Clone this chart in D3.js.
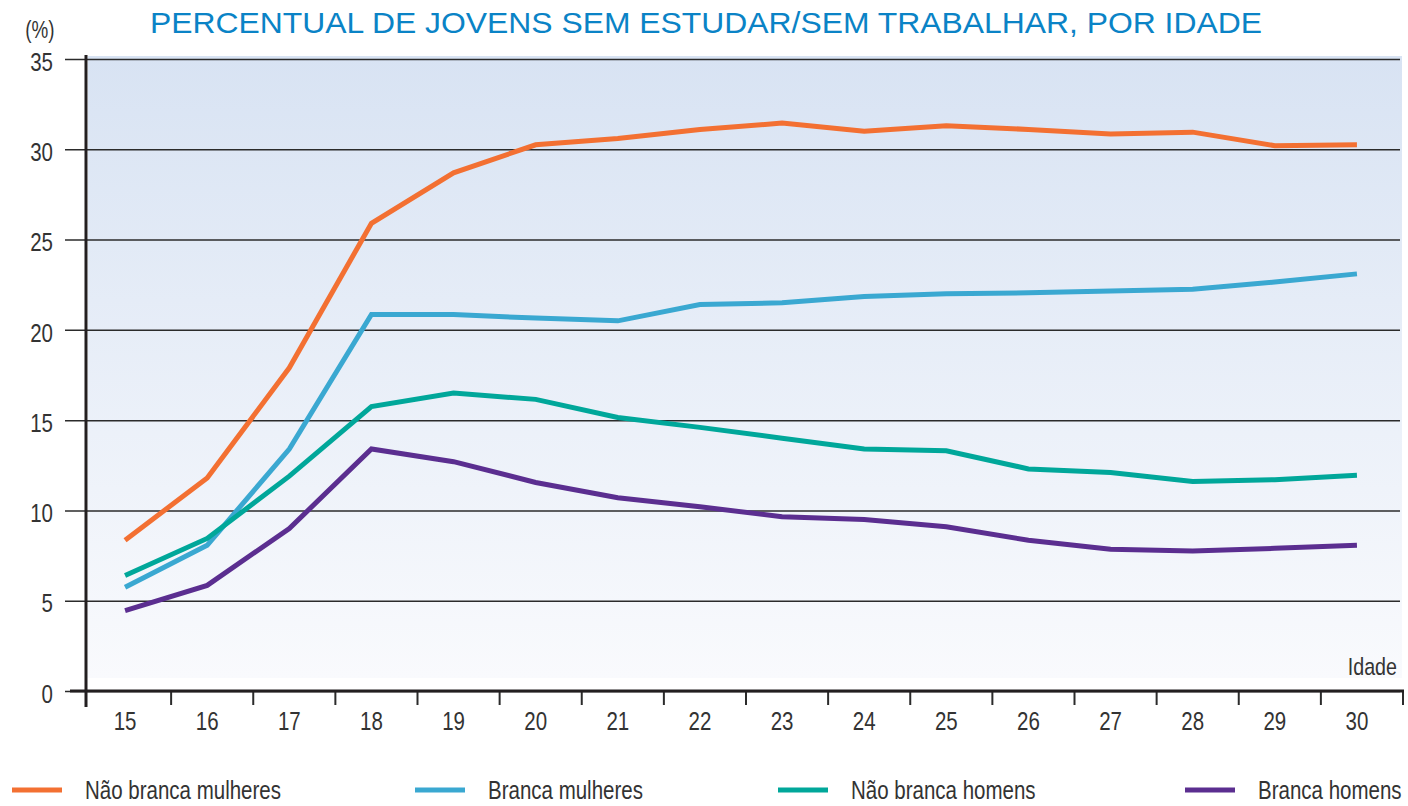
<!DOCTYPE html>
<html><head><meta charset="utf-8">
<script src="https://cdn.jsdelivr.net/npm/d3@7"></script>
<style>
html,body{margin:0;padding:0;background:#fff;}
svg{display:block;}
</style></head>
<body>
<svg id="chart" width="1408" height="806"></svg>
<script>
const ages = ["15","16","17","18","19","20","21","22","23","24","25","26","27","28","29","30"];
const naoBrancaMulheres = [8.35,11.8,17.9,25.9,28.7,30.25,30.6,31.1,31.45,31.0,31.3,31.1,30.85,30.95,30.2,30.25];
const brancaMulheres    = [5.75,8.07,13.4,20.85,20.85,20.65,20.5,21.4,21.5,21.85,22.0,22.05,22.15,22.25,22.65,23.1];
const naoBrancaHomens   = [6.4,8.45,11.9,15.75,16.5,16.15,15.15,14.6,14.0,13.4,13.3,12.3,12.1,11.6,11.7,11.95];
const brancaHomens      = [4.45,5.85,9.0,13.4,12.7,11.55,10.7,10.2,9.65,9.5,9.1,8.35,7.85,7.75,7.9,8.07];
const yTicks = [0,5,10,15,20,25,30,35];
const seriesNames = ["Não branca mulheres","Branca mulheres","Não branca homens","Branca homens"];
const seriesColors = ["#f37032","#3aa8d1","#00a79a","#5b2e90"];
const seriesValues = [naoBrancaMulheres, brancaMulheres, naoBrancaHomens, brancaHomens];
const titleText = "PERCENTUAL DE JOVENS SEM ESTUDAR/SEM TRABALHAR, POR IDADE";

const FONT = "'Liberation Sans',Arial,sans-serif";
const NARROW = 0.82;
function narrow(sel){
  sel.each(function(){
    const xv = +(this.getAttribute("x") || 0);
    d3.select(this).attr("transform", `translate(${xv},0) scale(${NARROW},1) translate(${-xv},0)`);
  });
}

const svg = d3.select("#chart");
const x = d3.scaleBand().domain(ages).range([89, 1403]).padding(0);
const y = d3.scaleLinear().domain([0, 35]).range([691, 59]);
const off = -5;
const cx = d => x(d) + x.bandwidth()/2 + off;

// background gradient
const defs = svg.append("defs");
const grad = defs.append("linearGradient").attr("id","bg").attr("x1",0).attr("y1",0).attr("x2",0).attr("y2",1);
grad.append("stop").attr("offset","0%").attr("stop-color","#d8e3f3");
grad.append("stop").attr("offset","100%").attr("stop-color","#f9fafd");
svg.append("rect").attr("x",88).attr("y",y(35)-3).attr("width",1402-88).attr("height",678-(y(35)-3)).attr("fill","url(#bg)");

// title
svg.append("text").attr("x",706).attr("y",33).attr("text-anchor","middle")
  .attr("font-family",FONT).attr("font-size",30)
  .attr("textLength",1112).attr("lengthAdjust","spacingAndGlyphs")
  .attr("fill","#0a83c6").text(titleText);

// y axis with gridlines
const yAxis = d3.axisLeft(y).tickValues(yTicks).tickSize(-(1400-86)).tickPadding(10).tickFormat(d3.format("d"));
const gy = svg.append("g").attr("transform","translate(86,0)").call(yAxis);
gy.select(".domain").remove();
gy.selectAll(".tick line").attr("x1",-21).attr("stroke","#2b2b2b").attr("stroke-width",1.5);
gy.selectAll(".tick text").attr("font-size",25).attr("fill","#333")
  .attr("x",-33).attr("dy","0.45em").style("font-family",FONT).call(narrow);

// (%) label
svg.append("text").attr("x",40).attr("y",38).attr("text-anchor","middle")
  .attr("font-size",23).attr("fill","#333").style("font-family",FONT).text("(%)").call(narrow);

// lines
const line = d3.line().x((d,i) => cx(ages[i])).y(d => y(d));
seriesValues.forEach((vals,k) => {
  svg.append("path").datum(vals).attr("d", line).attr("fill","none")
    .attr("stroke", seriesColors[k]).attr("stroke-width",5).attr("stroke-linejoin","miter");
});

// x axis
const xAxis = d3.axisBottom(x).tickSize(0).tickPadding(21);
const gx = svg.append("g").attr("transform","translate(0,691)").call(xAxis);
gx.select(".domain").remove();
gx.selectAll(".tick text").attr("font-size",25).attr("fill","#333").attr("x",off)
  .style("font-family",FONT).call(narrow);
const bounds = ages.map(a => x(a)).slice(1).concat([x(ages[ages.length-1]) + x.bandwidth()]);
gx.selectAll(".btick").data(bounds).enter().append("line")
  .attr("x1",d=>d).attr("x2",d=>d).attr("y1",0).attr("y2",14).attr("stroke","#2b2b2b").attr("stroke-width",2);
svg.append("line").attr("x1",70).attr("x2",1404).attr("y1",691).attr("y2",691).attr("stroke","#231f20").attr("stroke-width",3);
svg.append("line").attr("x1",86).attr("x2",86).attr("y1",55).attr("y2",707).attr("stroke","#231f20").attr("stroke-width",3);

// Idade
svg.append("text").attr("x",1397).attr("y",675).attr("text-anchor","end").attr("font-size",24).attr("fill","#333")
  .style("font-family",FONT).text("Idade").call(narrow);

// legend
const legX = [12, 415, 778, 1185];
const lg = svg.append("g");
seriesNames.forEach((n,k) => {
  lg.append("line").attr("x1",legX[k]).attr("x2",legX[k]+50).attr("y1",790).attr("y2",790)
    .attr("stroke",seriesColors[k]).attr("stroke-width",5);
  lg.append("text").attr("x",legX[k]+73).attr("y",799).attr("font-size",25).attr("fill","#333")
    .style("font-family",FONT).text(n).call(narrow);
});
</script>
</body></html>
